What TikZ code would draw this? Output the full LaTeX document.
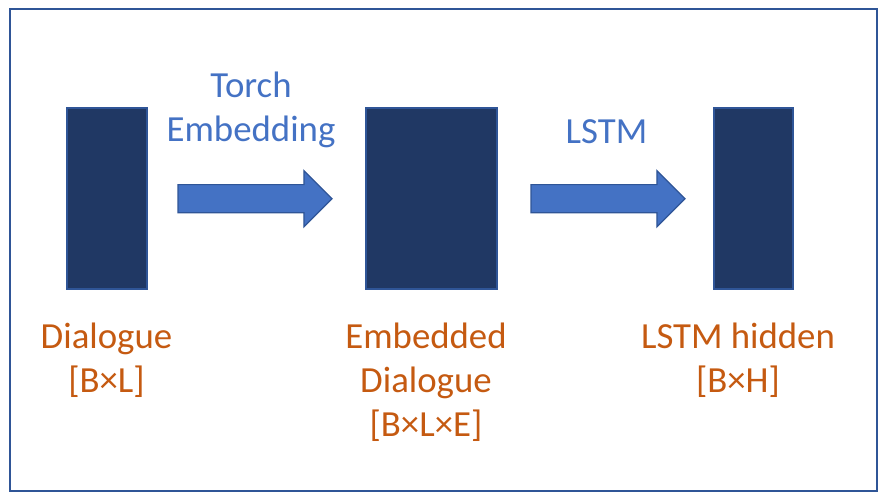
\documentclass[tikz,border=0pt]{standalone}
\usepackage{fontspec}
\setmainfont{Carlito}
\usetikzlibrary{shapes.arrows,positioning}

\definecolor{boxfill}{HTML}{203864}
\definecolor{boxline}{HTML}{2F5597}
\definecolor{flowblue}{HTML}{4472C4}
\definecolor{dimorange}{HTML}{C55A11}

\begin{document}
\begin{tikzpicture}[
            x = 0.5pt, y = -0.5pt, % one unit per pixel
            node distance = 15pt, % gap between tensors and arrows
            tensor/.style = {draw = boxline, line width = 1pt, fill = boxfill,
                inner sep = 0pt, minimum height = 90.5pt},
            flow/.style = {single arrow, draw = boxline, line width = 0.6pt,
                fill = flowblue, inner xsep = 0pt, inner ysep = 6.75pt,
                outer sep = 0pt, single arrow head extend = 7pt,
                minimum height = 77pt},
            lbl/.style = {align = center, anchor = base, inner sep = 0pt,
                font = \fontsize{18.4}{22}\selectfont}, % base = last line
        ]

  \useasboundingbox (0,0) rectangle (887,501);
  \draw[boxline, line width = 1pt] (10,9) rectangle (877,491);

  % tensors and arrows, left to right
  \node[tensor, minimum width = 40pt] (dialogue) at (106.5,198.75) {};
  \node[flow, right = 15.25pt of dialogue] (embed) {};
  \node[tensor, minimum width = 65.5pt, right = 16.25pt of embed] (embedded) {};
  \node[flow, right = 16.75pt of embedded] (lstm) {};
  \node[tensor, minimum width = 39.5pt, right = 13.75pt of lstm] (hidden) {};

  % operation names
  \node[lbl, text = flowblue] (embedtxt) at (251,142) {Torch\\Embedding};
  \node[lbl, text = flowblue] (lstmtxt) at (606.5,144) {LSTM};

  % tensor names and shapes
  \node[lbl, text = dimorange] (dialoguetxt) at (106.5,393) {Dialogue\\{[B×L]}};
  \node[lbl, text = dimorange] (embeddedtxt) at (426,437) {Embedded\\Dialogue\\{[B×L×E]}};
  \node[lbl, text = dimorange] (hiddentxt) at (738,393) {LSTM hidden\\{[B×H]}};

\end{tikzpicture}
\end{document}
